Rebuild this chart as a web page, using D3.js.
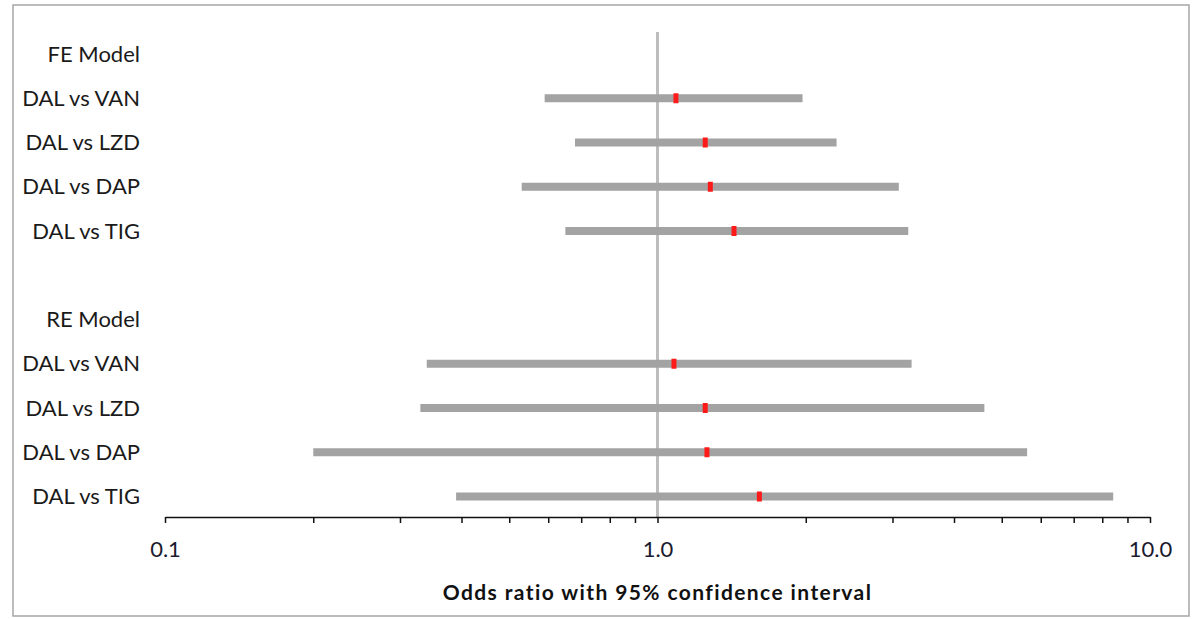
<!DOCTYPE html>
<html>
<head>
<meta charset="utf-8">
<script src="https://cdn.jsdelivr.net/npm/d3@7.9.0/dist/d3.min.js"></script>
<style>
  body { margin: 0; background: #fff; }
  svg { display: block; font-family: Lato, "Open Sans", sans-serif; }
</style>
</head>
<body>
<svg width="1201" height="619"></svg>
<script>
// rows from top to bottom, blank row separates the two models
const rowLabels = ["FE Model", "DAL vs VAN", "DAL vs LZD", "DAL vs DAP", "DAL vs TIG", "",
                   "RE Model", "DAL vs VAN", "DAL vs LZD", "DAL vs DAP", "DAL vs TIG"];
const oddsRatio = [null, 1.09, 1.25, 1.28, 1.43, null, null, 1.08, 1.25, 1.26, 1.61];
const ciLower   = [null, 0.59, 0.68, 0.53, 0.65, null, null, 0.34, 0.33, 0.20, 0.39];
const ciUpper   = [null, 1.97, 2.31, 3.09, 3.23, null, null, 3.28, 4.61, 5.63, 8.42];
const tickValues = [0.1, 0.2, 0.3, 0.4, 0.5, 0.6, 0.7, 0.8, 0.9, 1,
                    2, 3, 4, 5, 6, 7, 8, 9, 10];
const tickLabels = { 0.1: "0.1", 1: "1.0", 10: "10.0" };

const svg = d3.select('svg');

// chart frame
svg.append('rect')
    .attr('x', 13).attr('y', 5).attr('width', 1176).attr('height', 611)
    .attr('fill', 'none').attr('stroke', '#a6a6a6').attr('stroke-width', 1.5);

const rowKeys = rowLabels.map((d, i) => i);
let x = d3.scaleLog().domain([0.1, 10]).range([165, 1150]);
let y = d3.scalePoint().domain(rowKeys).range([54, 496.5]);
const axisY = 517;

// y labels
let yAxis = svg.append('g')
    .attr('transform', 'translate(165,0)')
    .call(d3.axisLeft(y).tickSize(0).tickPadding(25).tickFormat(i => rowLabels[i]));
yAxis.select('.domain').remove();
yAxis.selectAll('text')
    .attr('font-size', 22)
    .attr('font-family', 'Lato, sans-serif')
    .attr('fill', '#1a1a1a');

// reference line at OR = 1
svg.append('line')
    .attr('x1', x(1)).attr('x2', x(1))
    .attr('y1', 32).attr('y2', axisY)
    .attr('stroke', '#bdbdbd').attr('stroke-width', 3);

const rows = rowKeys.filter(i => oddsRatio[i] != null);

// confidence interval bars
svg.selectAll('.ci').data(rows).join('rect')
    .attr('class', 'ci')
    .attr('x', i => x(ciLower[i]))
    .attr('width', i => x(ciUpper[i]) - x(ciLower[i]))
    .attr('y', i => y(i) - 4)
    .attr('height', 8)
    .attr('fill', '#a3a3a3');

// point estimates
svg.selectAll('.pt').data(rows).join('rect')
    .attr('class', 'pt')
    .attr('x', i => x(oddsRatio[i]) - 2.5)
    .attr('width', 5)
    .attr('y', i => y(i) - 5)
    .attr('height', 10)
    .attr('fill', '#ff1a1a');

// x axis
let xAxis = svg.append('g')
    .attr('transform', `translate(0,${axisY})`)
    .call(d3.axisBottom(x)
        .tickValues(tickValues)
        .tickSize(6)
        .tickSizeOuter(0)
        .tickPadding(18)
        .tickFormat(d => tickLabels[d] || ''));
xAxis.select('.domain').attr('stroke', '#111').attr('stroke-width', 1.5);
xAxis.selectAll('.tick line').attr('stroke', '#111').attr('stroke-width', 1.5);
xAxis.selectAll('text')
    .attr('font-size', 22)
    .attr('font-family', 'Lato, sans-serif')
    .attr('fill', '#1a1a2e');

// axis title
svg.append('text')
    .attr('x', x(1))
    .attr('y', 600)
    .attr('text-anchor', 'middle')
    .attr('font-size', 21)
    .attr('font-weight', 'bold')
    .attr('letter-spacing', 1.4)
    .attr('fill', '#111')
    .text('Odds ratio with 95% confidence interval');
</script>
</body>
</html>
